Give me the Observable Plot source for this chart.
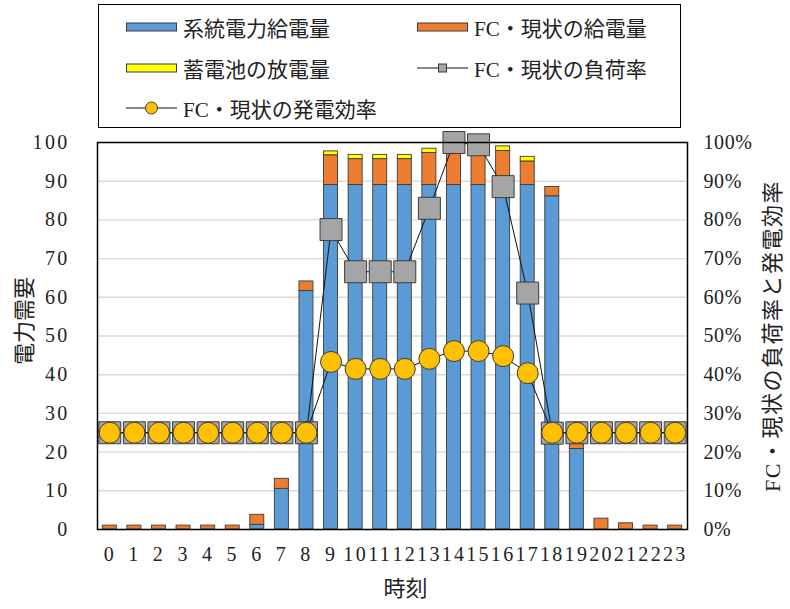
<!DOCTYPE html>
<html lang="ja">
<head>
<meta charset="utf-8">
<script src="https://cdn.jsdelivr.net/npm/d3@7"></script>
<script src="https://cdn.jsdelivr.net/npm/@observablehq/plot@0.6"></script>
<style>
  html, body { margin: 0; padding: 0; background: #fff; }
  #wrap { position: relative; width: 790px; height: 609px; }
  #legend {
    position: absolute; left: 98px; top: 4px; width: 581px; height: 122px;
    border: 1.3px solid #000; background: #fff;
    font-family: 'Liberation Serif', 'Noto Sans CJK JP', serif; font-size: 21px; color: #222;
  }
  .item { position: absolute; display: flex; align-items: center; height: 30px; white-space: nowrap; }
  .item svg { margin-right: 6px; display: block; }
  .demand-chart g[aria-label="y-axis tick label"] text,
  .demand-chart g[aria-label="x-axis tick label"] text { letter-spacing: 2.3px; }
  .demand-chart g.rate-axis text { letter-spacing: 0.6px; }
  .demand-chart g.title-right text { letter-spacing: 1.5px; }
</style>
</head>
<body>
<div id="wrap">
  <div id="chart"></div>
  <div id="legend"></div>
</div>
<script>
// 時刻 (hours)
const hours = ["0","1","2","3","4","5","6","7","8","9","10","11","12","13","14","15","16","17","18","19","20","21","22","23"];

// 系統電力給電量 (grid supply)
const gridSupply = [0, 0, 0, 0, 0, 0, 1.2, 10.5, 61.6, 89.0, 89.0, 89.0, 89.0, 89.0, 89.0, 89.0, 89.0, 89.0, 86.1, 20.8, 0, 0, 0, 0];
// FC・現状の給電量 (fuel cell supply)
const fcSupply = [1.0, 1.0, 1.0, 1.0, 1.0, 1.0, 2.6, 2.6, 2.5, 7.7, 6.7, 6.7, 6.7, 8.3, 10.0, 9.9, 8.8, 6.1, 2.4, 2.5, 2.8, 1.6, 1.0, 1.0];
// 蓄電池の放電量 (battery discharge)
const batteryDischarge = [0, 0, 0, 0, 0, 0, 0, 0, 0, 1.0, 1.1, 1.1, 1.1, 1.1, 0, 0, 1.2, 1.2, 0, 0, 0, 0, 0, 0];
// FC・現状の負荷率 (load factor)
const loadFactor = [0.25, 0.25, 0.25, 0.25, 0.25, 0.25, 0.25, 0.25, 0.25, 0.775, 0.666, 0.666, 0.666, 0.83, 1.0, 0.994, 0.886, 0.611, 0.249, 0.25, 0.25, 0.25, 0.25, 0.25];
// FC・現状の発電効率 (generation efficiency)
const efficiency = [0.25, 0.25, 0.25, 0.25, 0.25, 0.25, 0.25, 0.25, 0.25, 0.433, 0.415, 0.415, 0.415, 0.441, 0.461, 0.461, 0.448, 0.404, 0.25, 0.25, 0.25, 0.25, 0.25, 0.25];

const yTicks = [0, 10, 20, 30, 40, 50, 60, 70, 80, 90, 100];

const seriesNames = ["系統電力給電量", "FC・現状の給電量", "蓄電池の放電量"];
const seriesColors = ["#5b9bd5", "#ed7d31", "#ffff00"];
const loadName = "FC・現状の負荷率";
const effName = "FC・現状の発電効率";

// stacked bar rows, in stacking order
const barRows = [];
hours.forEach((h, i) => {
  [gridSupply, fcSupply, batteryDischarge].forEach((arr, k) => {
    if (arr[i] > 0) barRows.push({hour: h, series: seriesNames[k], value: arr[i]});
  });
});
const rateRows = hours.map((h, i) => ({hour: h, load: loadFactor[i] * 100, eff: efficiency[i] * 100}));

const fontStack = "'Liberation Serif', 'Noto Sans CJK JP', serif";
const outline = "#3c3c3c";
const textColor = "#222";

const chart = Plot.plot({
  className: "demand-chart",
  width: 790,
  height: 609,
  marginLeft: 97,
  marginRight: 103,
  marginTop: 142,
  marginBottom: 80,
  style: {fontFamily: fontStack, fontSize: "20px", color: textColor, background: "white", overflow: "visible"},
  x: {type: "band", domain: hours, paddingInner: 0.43, paddingOuter: 0.215, round: false, axis: null},
  y: {domain: [0, 100], axis: null},
  color: {domain: seriesNames, range: seriesColors},
  marks: [
    Plot.gridY(yTicks, {stroke: "#d9d9d9", strokeOpacity: 1, strokeWidth: 1.4}),
    Plot.barY(barRows, {x: "hour", y: "value", fill: "series", stroke: outline, strokeWidth: 0.9}),
    Plot.line(rateRows, {x: "hour", y: "load", stroke: "#111", strokeWidth: 1}),
    Plot.dot(rateRows, {x: "hour", y: "load", symbol: "square", r: 12.4, fill: "#a5a5a5", stroke: outline, strokeWidth: 1}),
    Plot.line(rateRows, {x: "hour", y: "eff", stroke: "#111", strokeWidth: 1}),
    Plot.dot(rateRows, {x: "hour", y: "eff", r: 10.5, fill: "#ffc000", stroke: outline, strokeWidth: 1}),
    Plot.frame({stroke: "#000", strokeWidth: 1.5}),
    Plot.axisY(yTicks, {anchor: "left", tickSize: 0, tickPadding: 28, label: null, fontFamily: fontStack, fontSize: 20, fill: textColor}),
    Plot.axisY(yTicks, {anchor: "right", tickSize: 0, tickPadding: 16, label: null, tickFormat: d => d + "%", fontFamily: fontStack, fontSize: 20, fill: textColor, className: "rate-axis"}),
    Plot.axisX(hours, {tickSize: 0, tickPadding: 17, label: null, fontFamily: fontStack, fontSize: 20, fill: textColor}),
    Plot.text(["電力需要"], {frameAnchor: "left", textAnchor: "middle", dx: -73, dy: -15, rotate: -90, fontSize: 22, fill: textColor}),
    Plot.text(["FC・現状の負荷率と発電効率"], {frameAnchor: "right", textAnchor: "middle", dx: 85, rotate: -90, fontSize: 22, fill: textColor, className: "title-right"}),
    Plot.text(["時刻"], {frameAnchor: "bottom", textAnchor: "middle", dx: 13, dy: 66, fontSize: 22, fill: textColor})
  ]
});
document.getElementById("chart").append(chart);

// legend
const legend = document.getElementById("legend");
const ns = "http://www.w3.org/2000/svg";
function swatch(kind, color) {
  const s = document.createElementNS(ns, "svg");
  s.setAttribute("width", 51); s.setAttribute("height", 16);
  if (kind === "bar") {
    const r = document.createElementNS(ns, "rect");
    r.setAttribute("x", 0.5); r.setAttribute("y", 4); r.setAttribute("width", 50); r.setAttribute("height", 8);
    r.setAttribute("fill", color); r.setAttribute("stroke", outline); r.setAttribute("stroke-width", 1);
    s.append(r);
  } else {
    const l = document.createElementNS(ns, "line");
    l.setAttribute("x1", 0); l.setAttribute("x2", 51); l.setAttribute("y1", 8); l.setAttribute("y2", 8);
    l.setAttribute("stroke", "#111"); l.setAttribute("stroke-width", 1);
    s.append(l);
    if (kind === "square") {
      const r = document.createElementNS(ns, "rect");
      r.setAttribute("x", 21.5); r.setAttribute("y", 4); r.setAttribute("width", 8); r.setAttribute("height", 8);
      r.setAttribute("fill", color); r.setAttribute("stroke", outline);
      s.append(r);
    } else {
      const c = document.createElementNS(ns, "circle");
      c.setAttribute("cx", 25.5); c.setAttribute("cy", 8); c.setAttribute("r", 6);
      c.setAttribute("fill", color); c.setAttribute("stroke", outline);
      s.append(c);
    }
  }
  return s;
}
const legendItems = [
  {name: seriesNames[0], kind: "bar", color: seriesColors[0], left: 27, top: 7},
  {name: seriesNames[1], kind: "bar", color: seriesColors[1], left: 318, top: 7},
  {name: seriesNames[2], kind: "bar", color: seriesColors[2], left: 27, top: 48},
  {name: loadName, kind: "square", color: "#a5a5a5", left: 318, top: 48},
  {name: effName, kind: "circle", color: "#ffc000", left: 27, top: 88}
];
for (const it of legendItems) {
  const div = document.createElement("div");
  div.className = "item";
  div.style.left = it.left + "px";
  div.style.top = it.top + "px";
  div.append(swatch(it.kind, it.color));
  const span = document.createElement("span");
  span.textContent = it.name;
  div.append(span);
  legend.append(div);
}
</script>
</body>
</html>
